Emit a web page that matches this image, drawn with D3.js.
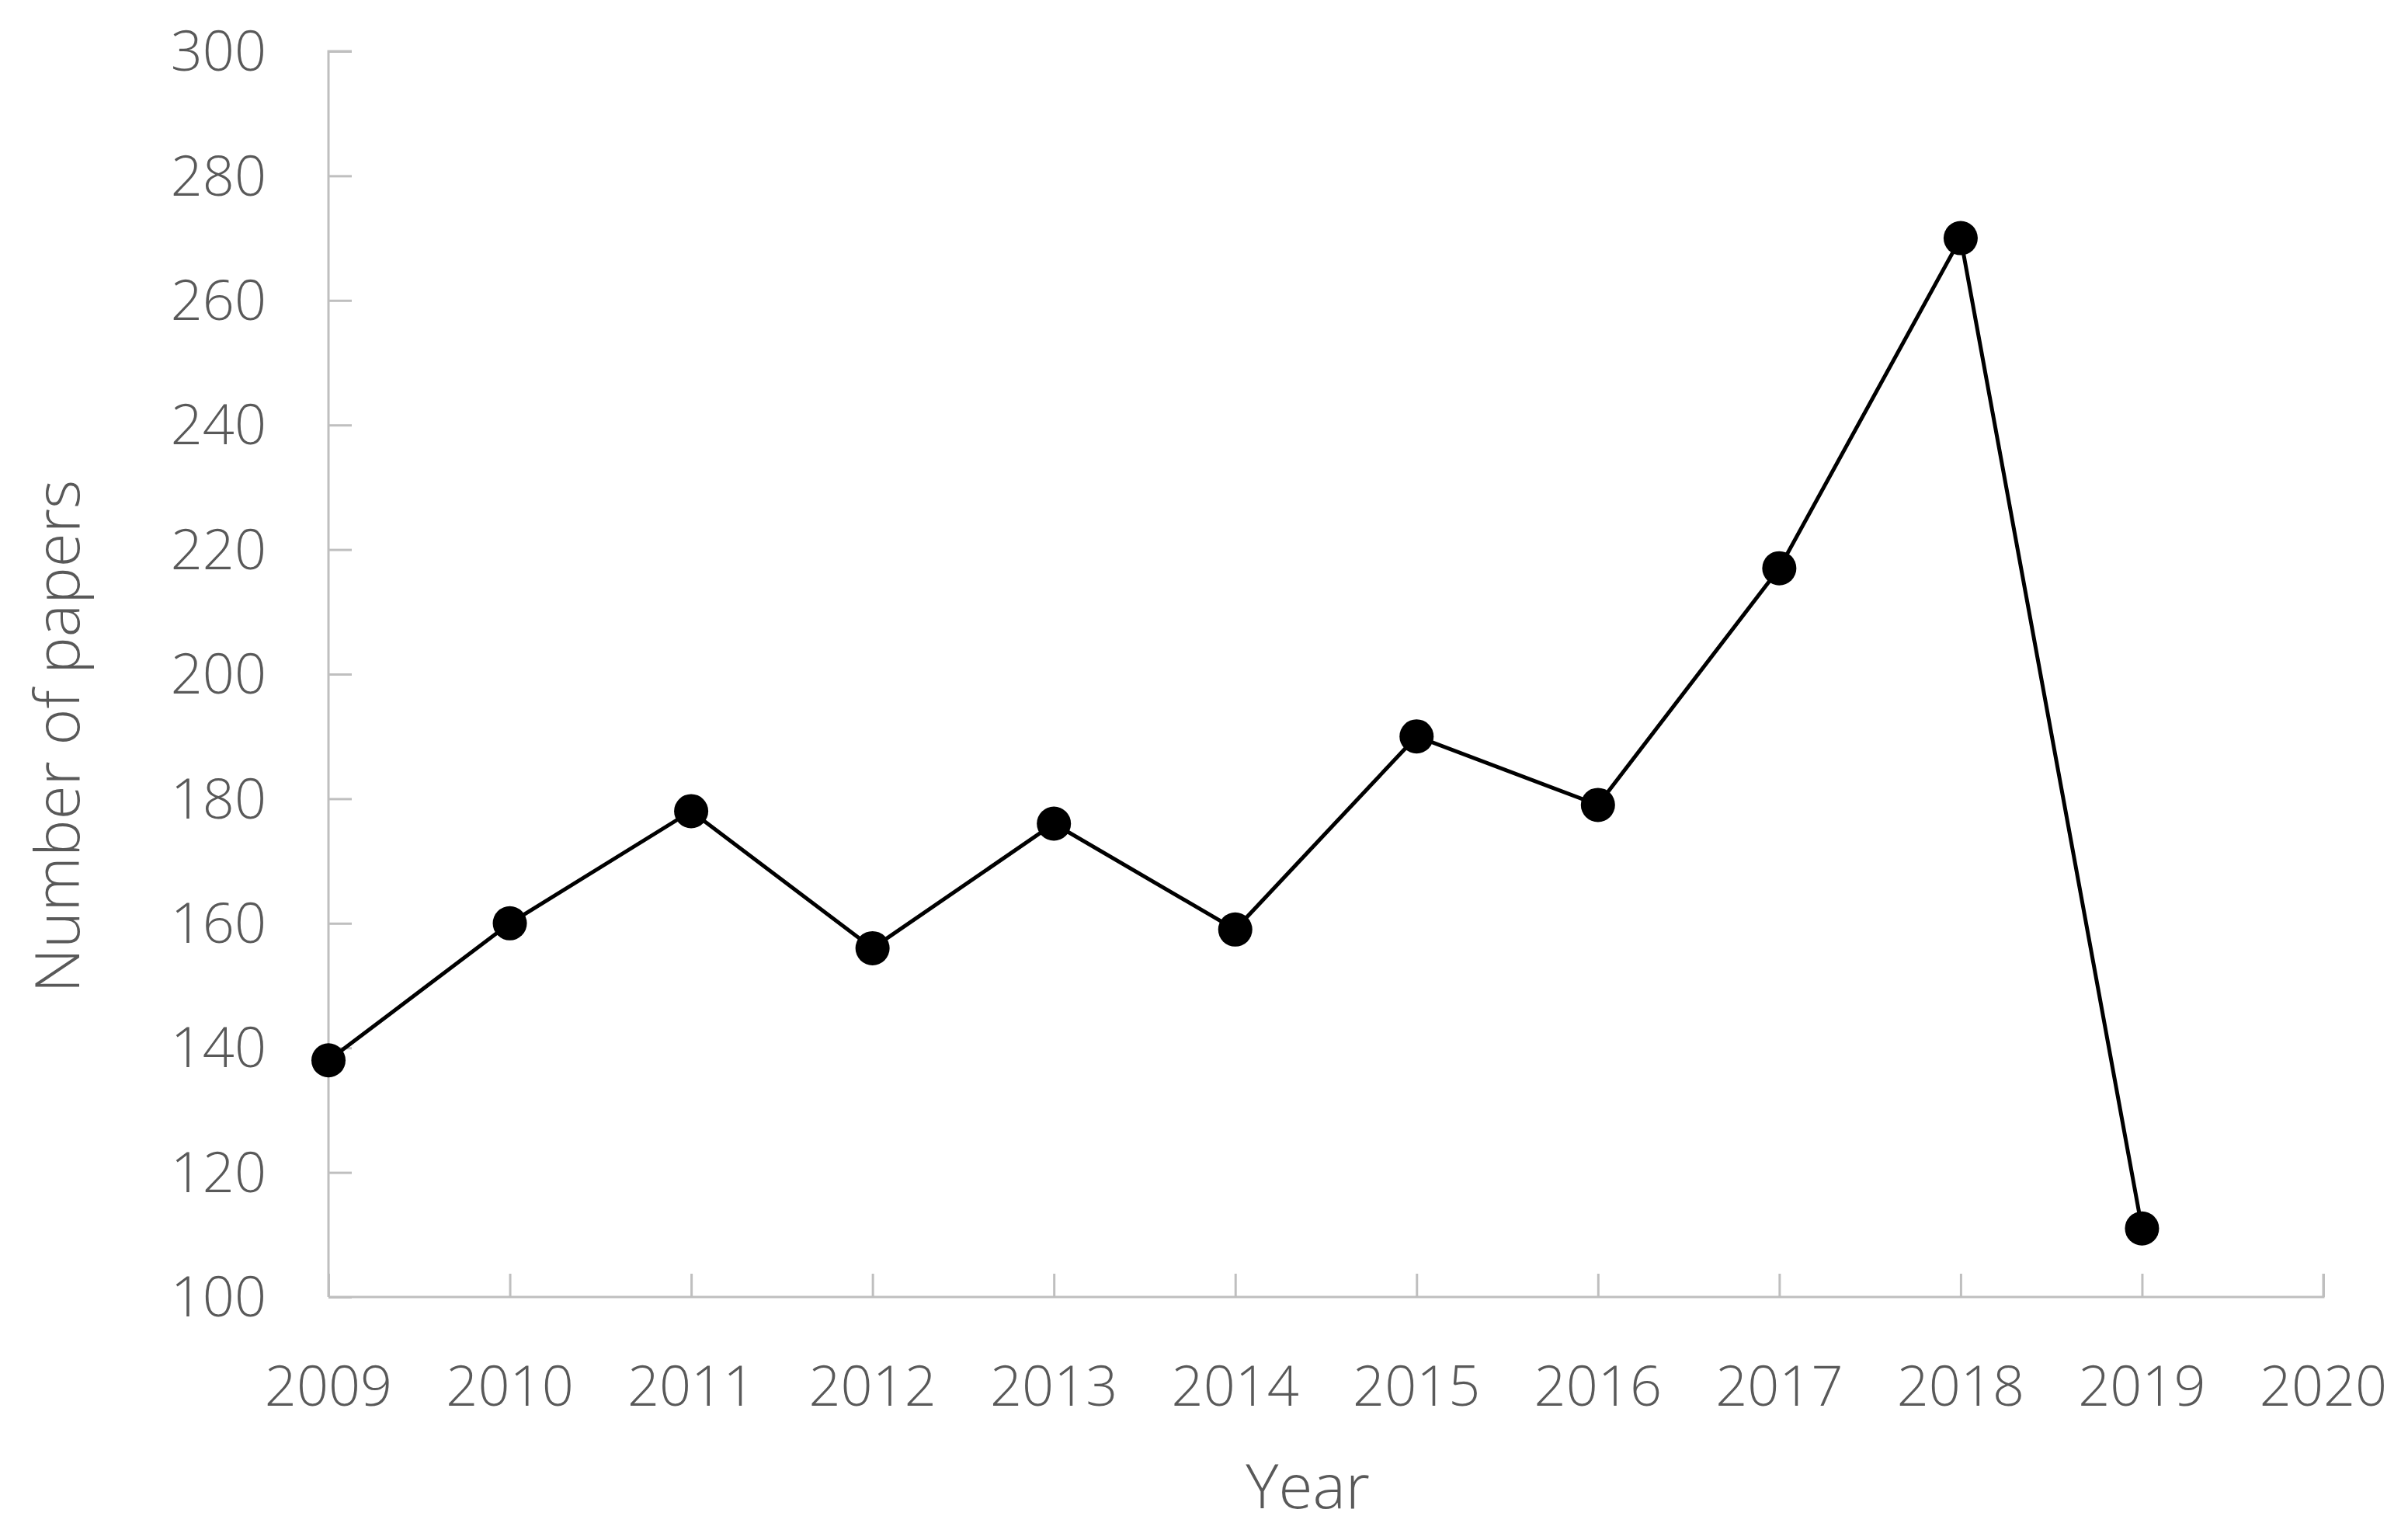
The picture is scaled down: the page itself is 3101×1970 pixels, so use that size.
<!DOCTYPE html>
<html>
<head>
<meta charset="utf-8">
<script src="https://cdn.jsdelivr.net/npm/d3@7"></script>
<style>
  body { margin: 0; background: #fff; }
  text { font-family: "Open Sans", sans-serif; font-weight: 300; fill: #595959; }
</style>
</head>
<body>
<div id="chart"></div>
<script>
const years = [2009, 2010, 2011, 2012, 2013, 2014, 2015, 2016, 2017, 2018, 2019];
const papers = [138, 160, 178, 156, 176, 159, 190, 179, 217, 270, 111];
const xTicks = [2009, 2010, 2011, 2012, 2013, 2014, 2015, 2016, 2017, 2018, 2019, 2020];
const yTicks = [100, 120, 140, 160, 180, 200, 220, 240, 260, 280, 300];

const width = 3101, height = 1970;
const margin = { top: 66, right: 109, bottom: 300, left: 423 };

const svg = d3.select('#chart').append('svg')
  .attr('width', width)
  .attr('height', height);

const x = d3.scaleLinear().domain([2009, 2020]).range([margin.left, width - margin.right]);
const y = d3.scaleLinear().domain([100, 300]).range([height - margin.bottom, margin.top]);

const axisColor = '#bfbfbf';

// y axis, ticks pointing inward
const yAxis = svg.append('g')
  .attr('transform', `translate(${margin.left},0)`)
  .call(d3.axisRight(y).tickValues(yTicks).tickSize(30).tickFormat(''));
yAxis.selectAll('path, line').attr('stroke', axisColor).attr('stroke-width', 3);
yAxis.select('.domain').attr('d', `M30,${y(300)}H0V${y(100)}`);
svg.append('g').selectAll('text').data(yTicks).enter().append('text')
  .attr('x', margin.left - 80)
  .attr('y', d => y(d))
  .attr('dy', '0.35em')
  .attr('text-anchor', 'end')
  .style('font-size', '72px')
  .text(d => d);

// x axis, ticks pointing up
const xAxis = svg.append('g')
  .attr('transform', `translate(0,${y(100)})`)
  .call(d3.axisTop(x).tickValues(xTicks).tickSize(30).tickFormat(''));
xAxis.selectAll('path, line').attr('stroke', axisColor).attr('stroke-width', 3);
xAxis.select('.domain').attr('d', `M${x(2009)},0H${x(2020)}V-30`);
svg.append('g').selectAll('text').data(xTicks).enter().append('text')
  .attr('x', d => x(d))
  .attr('y', y(100) + 115)
  .attr('dy', '0.35em')
  .attr('text-anchor', 'middle')
  .style('font-size', '72px')
  .text(d => d);

// axis titles
svg.append('text')
  .attr('x', x(2014.4))
  .attr('y', 1914)
  .attr('dy', '0.35em')
  .attr('text-anchor', 'middle')
  .style('font-size', '80px')
  .text('Year');
svg.append('text')
  .attr('transform', `translate(74,${y(190)}) rotate(-90)`)
  .attr('dy', '0.35em')
  .attr('text-anchor', 'middle')
  .style('font-size', '80px')
  .text('Number of papers');

// line + markers
const line = d3.line()
  .x((d, i) => x(years[i]))
  .y(d => y(d));

svg.append('path')
  .datum(papers)
  .attr('fill', 'none')
  .attr('stroke', '#000')
  .attr('stroke-width', 5)
  .attr('d', line);

svg.selectAll('circle').data(papers).enter().append('circle')
  .attr('cx', (d, i) => x(years[i]))
  .attr('cy', d => y(d))
  .attr('r', 22)
  .attr('fill', '#000');
</script>
</body>
</html>
